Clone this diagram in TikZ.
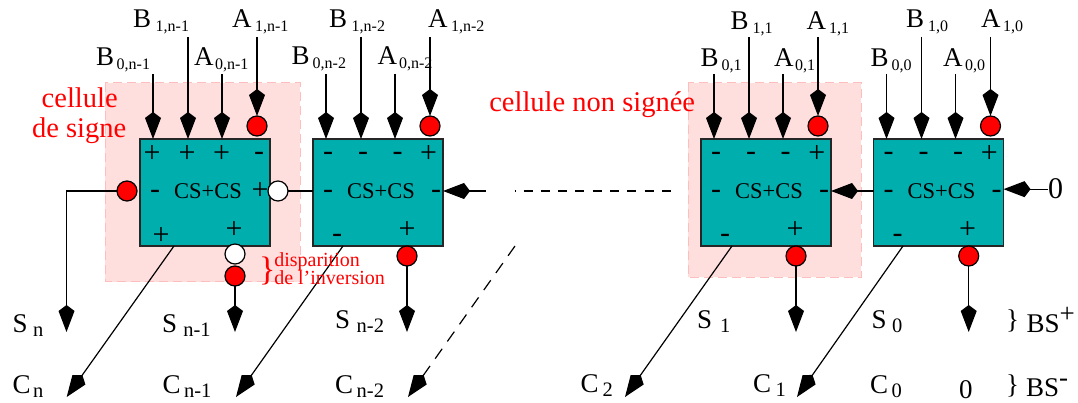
\documentclass[tikz,border=0pt]{standalone}
\usepackage{fontspec}
\setmainfont{Liberation Serif}
\usetikzlibrary{arrows.meta}
\definecolor{tealbox}{RGB}{0,174,174}
\definecolor{pinkfill}{RGB}{255,222,222}
\definecolor{pinkline}{RGB}{255,190,190}
\newcommand\fsz[1]{\fontsize{#1}{#1}\selectfont}
\tikzset{
  wire/.style={line width=1.2pt,black},
  arr/.style={wire,-{Kite[length=27pt,width=16pt,inset=6pt]}},
  cellbox/.style={draw=black!85,fill=tealbox,line width=1.3pt,minimum width=130pt,minimum height=107pt,inner sep=0pt,outer sep=0pt},
  bub/.style={circle,draw=black,line width=1.2pt,minimum size=20pt,inner sep=0pt,outer sep=0pt},
  redbub/.style={bub,fill=red},
  whitebub/.style={bub,fill=white},
  zone/.style={fill=pinkfill,draw=pinkline,line width=1pt,dash pattern=on 9pt off 5pt},
  txt/.style={anchor=base west,inner sep=0pt,outer sep=0pt},
  sign/.style={anchor=base,inner sep=0pt,outer sep=0pt,font=\fsz{30}},
  redtxt/.style={txt,text=red},
}
\newcommand\lab[6]{\node[txt] (#1) at (#2,#3) {\makebox[#5pt][l]{\fsz{27}#4}\raisebox{-4pt}{\fsz{16}#6}};}
\newcommand\olab[6]{\node[txt] (#1) at (#2,#3) {\makebox[#5pt][l]{\fsz{27}#4}\raisebox{-4pt}{\fsz{20.5}#6}};}
% name, x of the left side
\newcommand\cellunit[2]{
  \pgfmathsetmacro\cx{#2+65}
  \node[cellbox] (#1) at (\cx,192.5) {};
  \pgfmathsetmacro\xa{#2+13}\pgfmathsetmacro\xb{#2+48}\pgfmathsetmacro\xc{#2+82}\pgfmathsetmacro\xd{#2+117}
  \coordinate (#1b0) at (\xa,74);
  \coordinate (#1b1) at (\xb,37);
  \coordinate (#1a0) at (\xc,74);
  \coordinate (#1a1) at (\xd,37);
  \node[redbub] (#1ra) at (\xd,126) {};
  \draw[arr] (#1b0) -- (#1.north -| #1b0);
  \draw[arr] (#1b1) -- (#1.north -| #1b1);
  \draw[arr] (#1a0) -- (#1.north -| #1a0);
  \draw[arr] (#1a1) -- (#1ra.north);
  \pgfmathsetmacro\xm{#2+68}
  \node[anchor=center,inner sep=0pt,font=\fsz{22.5}] (#1t) at (\xm,191.5) {CS+CS};
}
\newcommand\sg[5]{\pgfmathsetmacro\sx{#2+#3}\node[sign] (#1) at (\sx,#4) {#5};}
\newcommand\stdsigns[2]{
  \sg{#1s1}{#2}{15}{161}{-}
  \sg{#1s2}{#2}{50}{161}{-}
  \sg{#1s3}{#2}{84.7}{161}{-}
  \sg{#1s4}{#2}{115.7}{162.5}{+}
  \sg{#1s5}{#2}{15}{199}{-}
  \sg{#1s6}{#2}{123}{199}{-}
  \sg{#1s7}{#2}{24}{243}{-}
  \sg{#1s8}{#2}{94}{239}{+}
}
\begin{document}
\begin{tikzpicture}[x=1pt,y=-1pt]
\useasboundingbox (0,0) rectangle (1078,403);
% shaded zones
\path[zone] (105,83) rectangle (300,281.5);
\path[zone] (688,83) rectangle (861,277);
% cells
\cellunit{ca}{140}
\cellunit{cb}{313}
\cellunit{cc}{701}
\cellunit{cd}{873.5}
% signs, first cell
\sg{cas1}{140}{12}{162.5}{+}
\sg{cas2}{140}{47}{162.5}{+}
\sg{cas3}{140}{81.7}{162.5}{+}
\sg{cas4}{140}{119}{161}{-}
\sg{cas5}{140}{15}{199}{-}
\sg{cas6}{140}{120}{200}{+}
\sg{cas7}{140}{21}{244}{+}
\sg{cas8}{140}{94}{239}{+}
\stdsigns{cb}{313}
\stdsigns{cc}{701}
\stdsigns{cd}{873.5}
% side bubbles and cell links
\node[redbub] (sn) at (127,191) {};
\node[whitebub] (carry) at (278,191) {};
\coordinate (snc) at (66.5,191);
\coordinate (snt) at (66.5,332);
\draw[arr] (sn.west) -- (snc) -- (snt);
\draw[wire] (carry.east) -- (cb.west |- carry);
\coordinate (cbr) at (486,191);
\draw[arr] (cbr) -- (cb.east |- cbr);
\coordinate (dsa) at (514.5,191);
\coordinate (dsb) at (672,191);
\draw[wire,dash pattern=on 9pt off 8.3pt,dash phase=8.3pt] (dsa) -- (dsb);
\coordinate (ccr) at (873.5,191);
\draw[arr] (ccr) -- (cc.east |- ccr);
\node[inner sep=0pt,anchor=base west,font=\fsz{30}] (zero) at (1048,199) {0};
\draw[arr] (zero.west) -- (cd.east |- zero.west);
% bottom outputs
\node[whitebub] (wa) at (235,254) {};
\node[redbub] (ra) at (235,276) {};
\coordinate (oa) at (235,332);
\draw[arr] (ra.south) -- (oa);
\node[redbub] (rb) at (407,256) {};
\coordinate (ob) at (407,332);
\draw[arr] (rb.south) -- (ob);
\node[redbub] (rc) at (796,256) {};
\coordinate (oc) at (796,332);
\draw[arr] (rc.south) -- (oc);
\node[redbub] (rd) at (968.7,256) {};
\coordinate (od) at (968.7,332);
\draw[arr] (rd.south) -- (od);
% carries
\coordinate (fa) at (174,246); \coordinate (ta) at (66.7,397);
\draw[arr] (fa) -- (ta);
\coordinate (fb) at (343,246); \coordinate (tb) at (236,397);
\draw[arr] (fb) -- (tb);
\coordinate (fe) at (515,246); \coordinate (te) at (408,397);
\draw[arr,dash pattern=on 12pt off 9pt] (fe) -- (te);
\coordinate (fc) at (732,246); \coordinate (tc) at (625,397);
\draw[arr] (fc) -- (tc);
\coordinate (fd) at (903,246); \coordinate (td) at (797,397);
\draw[arr] (fd) -- (td);
% red comments
\node[redtxt,font=\fsz{28.5}] (ct1) at (41.7,108) {cellule};
\node[redtxt,font=\fsz{28.5}] (ct2) at (32,138) {de signe};
\node[redtxt,font=\fsz{28.5}] (ct3) at (489.3,111.7) {cellule non signée};
\node[redtxt,font=\fsz{34}] (ct4) at (259,280) {\}};
\node[redtxt,font=\fsz{20}] (ct5) at (274.3,266.7) {disparition};
\node[redtxt,font=\fsz{20}] (ct6) at (274.3,284.3) {de l'inversion};
% input labels
\lab{l1}{133}{28}{B}{22.7}{1,n-1}
\lab{l2}{96}{65.7}{B}{20.7}{0,n-1}
\lab{l3}{194}{65.7}{A}{21}{0,n-1}
\lab{l4}{232}{28}{A}{23}{1,n-1}
\lab{l5}{329}{27.3}{B}{22.7}{1,n-2}
\lab{l6}{291.7}{64.5}{B}{21}{0,n-2}
\lab{l7}{377.7}{64.5}{A}{21.3}{0,n-2}
\lab{l8}{428}{27.3}{A}{23}{1,n-2}
\lab{l9}{730.7}{30}{B}{22}{1,1}
\lab{l10}{700.7}{66.7}{B}{21}{0,1}
\lab{l11}{774}{66.7}{A}{21}{0,1}
\lab{l12}{806.7}{30}{A}{22.3}{1,1}
\lab{l13}{906}{28}{B}{22}{1,0}
\lab{l14}{870.7}{66.7}{B}{21}{0,0}
\lab{l15}{943}{66.7}{A}{22}{0,0}
\lab{l16}{981}{28}{A}{22}{1,0}
% output labels
\olab{s1}{12.7}{332}{S}{20.3}{n}
\olab{s2}{162}{332}{S}{21.3}{n-1}
\olab{s3}{335}{328.5}{S}{21.7}{n-2}
\olab{s4}{697}{328.5}{S}{23}{1}
\olab{s5}{871.7}{328.5}{S}{20.3}{0}
\olab{c1}{12.7}{393}{C}{20.3}{n}
\olab{c2}{162.7}{393}{C}{21.3}{n-1}
\olab{c3}{335}{393}{C}{21.7}{n-2}
\olab{c4}{580.7}{392}{C}{22}{2}
\olab{c5}{753}{392}{C}{22.7}{1}
\olab{c6}{870}{393}{C}{21.7}{0}
\node[txt,font=\fsz{27}] (z0) at (959,398) {0};
\node[txt,font=\fsz{27}] (br1) at (1006,328) {\}};
\node[txt,font=\fsz{27}] (br2) at (1006,393) {\}};
\node[txt,font=\fsz{27}] (bsp) at (1026.7,332) {BS\raisebox{10pt}{\fsz{27}+}};
\node[txt,font=\fsz{27}] (bsm) at (1026,396.7) {BS\raisebox{10pt}{\fsz{27}-}};
\end{tikzpicture}
\end{document}
